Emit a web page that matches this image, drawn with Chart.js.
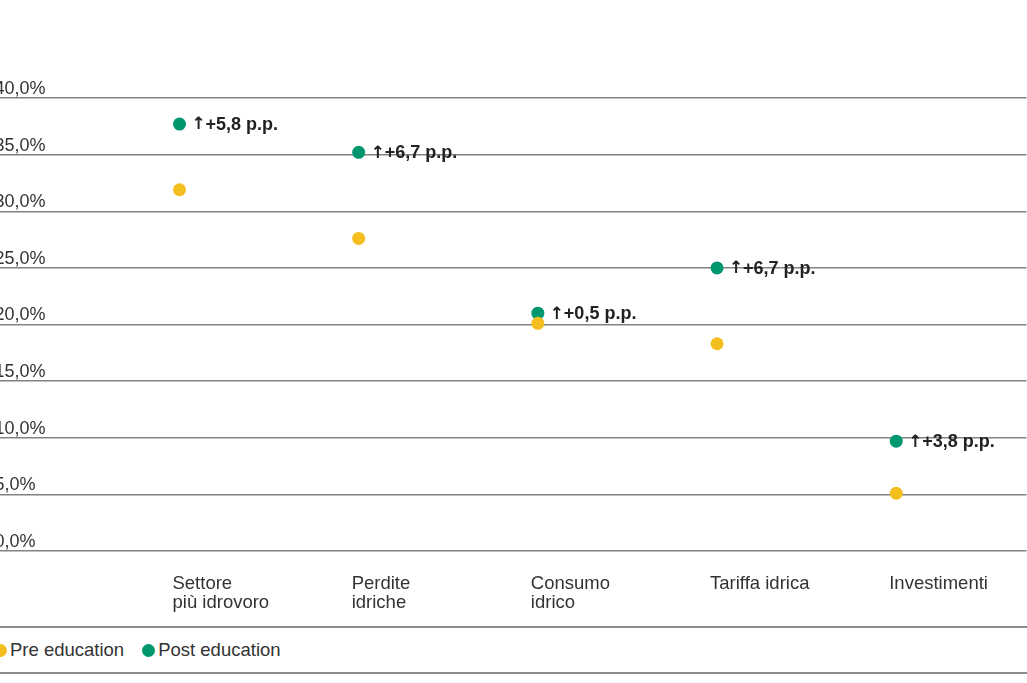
<!DOCTYPE html>
<html>
<head>
<meta charset="utf-8">
<script src="https://cdn.jsdelivr.net/npm/chart.js@4"></script>
<style>
  body { margin: 0; background: #fff; font-family: "Liberation Sans", Arial, sans-serif; }
  #wrap { position: relative; width: 1027px; height: 683px; overflow: hidden; }
  #box { position: absolute; left: -7px; top: 0; width: 1040px; height: 636px; }
  #legend {
    position: absolute; left: 0; top: 626px; width: 1027px; height: 48px;
    box-sizing: border-box; border-top: 2px solid #8c8c8c; border-bottom: 2px solid #8c8c8c;
    display: flex; align-items: center; background: #fff;
    font-size: 18.5px; color: #333;
  }
  .item { display: flex; align-items: center; margin-right: 18px; }
  .item:first-child { margin-left: -6px; }
  .dot { width: 13px; height: 13px; border-radius: 50%; margin-right: 3px; }
</style>
</head>
<body>
<div id="wrap">
  <div id="box"><canvas id="chart"></canvas></div>
  <div id="legend"></div>
</div>
<script>
// categories (multi-line labels) and values
const categories = [['Settore', 'più idrovoro'], ['Perdite', 'idriche'], ['Consumo', 'idrico'], ['Tariffa idrica'], ['Investimenti']];
const preValues = [31.9, 27.6, 20.1, 18.3, 5.1];
const postValues = [37.7, 35.2, 21.0, 25.0, 9.7];
const deltaLabels = ['+5,8 p.p.', '+6,7 p.p.', '+0,5 p.p.', '+6,7 p.p.', '+3,8 p.p.'];
const yTickValues = [0, 5, 10, 15, 20, 25, 30, 35, 40];
const seriesNames = ['Pre education', 'Post education'];
const seriesColors = ['#f4be1f', '#00976e'];

const FONT = '"Liberation Sans", Arial, sans-serif';

function toPoints(values) {
    return values.map((v, i) => ({ x: i, y: v }));
}

// "↑ +x p.p." labels next to the post education dots
const deltaPlugin = {
    id: 'deltaLabels',
    afterDatasetsDraw(chart) {
        const ctx = chart.ctx;
        const meta = chart.getDatasetMeta(1);
        ctx.save();
        ctx.fillStyle = '#222';
        ctx.textBaseline = 'middle';
        meta.data.forEach((pt, i) => {
            ctx.font = 'bold 17px "DejaVu Sans", sans-serif';
            ctx.fillText('↑', pt.x + 12, pt.y + 1);
            ctx.font = 'bold 18px ' + FONT;
            ctx.fillText(deltaLabels[i], pt.x + 26, pt.y + 1);
        });
        ctx.restore();
    }
};

const ctx = document.getElementById('chart');

new Chart(ctx, {
    type: 'scatter',
    data: {
        datasets: [
            {
                label: seriesNames[0],
                data: toPoints(preValues),
                backgroundColor: seriesColors[0],
                borderWidth: 0,
                pointRadius: 6.5,
                pointHoverRadius: 6.5
            },
            {
                label: seriesNames[1],
                data: toPoints(postValues),
                backgroundColor: seriesColors[1],
                borderWidth: 0,
                pointRadius: 6.5,
                pointHoverRadius: 6.5
            }
        ]
    },
    options: {
        responsive: true,
        maintainAspectRatio: false,
        animation: false,
        layout: { padding: { top: 98, left: 0, right: 0, bottom: 0 } },
        plugins: {
            legend: { display: false },
            tooltip: { enabled: false }
        },
        scales: {
            x: {
                type: 'linear',
                min: -1.0045,
                max: 4.727,
                grid: { display: false, drawTicks: false },
                border: { display: false },
                afterBuildTicks: (scale) => {
                    scale.ticks = categories.map((c, i) => ({ value: i }));
                },
                ticks: {
                    autoSkip: false,
                    maxRotation: 0,
                    align: 'start',
                    labelOffset: -7,
                    padding: 24,
                    color: '#333',
                    font: { family: FONT, size: 18.5, lineHeight: 1.0 },
                    callback: (value) => categories[value] || ''
                }
            },
            y: {
                min: 0,
                max: 40,
                afterBuildTicks: (scale) => {
                    scale.ticks = yTickValues.map(v => ({ value: v }));
                },
                afterFit: (scale) => { scale.width = 0; },
                grid: { color: '#828282', lineWidth: 1.4, drawTicks: false },
                border: { display: false },
                ticks: {
                    mirror: true,
                    padding: -5,
                    labelOffset: -9,
                    color: '#333',
                    font: { family: FONT, size: 18 },
                    callback: (value) => value.toFixed(1).replace('.', ',') + '%'
                }
            }
        }
    },
    plugins: [deltaPlugin]
});

// legend built from the series names and colours
const legend = document.getElementById('legend');
seriesNames.forEach((name, i) => {
    const item = document.createElement('div');
    item.className = 'item';
    const dot = document.createElement('span');
    dot.className = 'dot';
    dot.style.background = seriesColors[i];
    const text = document.createElement('span');
    text.textContent = name;
    item.appendChild(dot);
    item.appendChild(text);
    legend.appendChild(item);
});
</script>
</body>
</html>
